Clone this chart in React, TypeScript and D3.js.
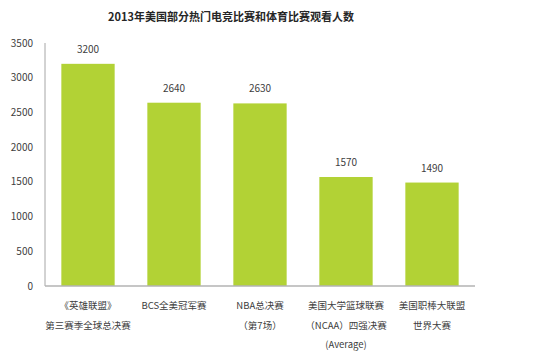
import { useEffect, useRef } from "react";
import * as d3 from "d3";

const title = "2013年美国部分热门电竞比赛和体育比赛观看人数";
const categories = [
  ["《英雄联盟》", "第三赛季全球总决赛"],
  ["BCS全美冠军赛"],
  ["NBA总决赛", "（第7场）"],
  ["美国大学篮球联赛", "（NCAA）四强决赛", "(Average)"],
  ["美国职棒大联盟", "世界大赛"],
];
const viewers = [3200, 2640, 2630, 1570, 1490];
const yTicks = [0, 500, 1000, 1500, 2000, 2500, 3000, 3500];

const W = 554;
const H = 353;
const margin = { top: 43, right: 79, bottom: 67, left: 45 };
const font = "'Noto Sans CJK SC', 'Noto Sans', sans-serif";

export default function App() {
  const ref = useRef<SVGSVGElement>(null);

  useEffect(() => {
    const svg = d3.select(ref.current);
    svg.selectAll("*").remove();

    const width = W - margin.left - margin.right;
    const height = H - margin.top - margin.bottom;

    const x = d3
      .scaleBand<number>()
      .domain(d3.range(viewers.length))
      .range([0, width])
      .paddingInner(0.38)
      .paddingOuter(0.19);

    const y = d3.scaleLinear().domain([0, 3500]).range([height, 0]);

    // title
    svg
      .append("text")
      .attr("x", 231)
      .attr("y", 21)
      .attr("text-anchor", "middle")
      .attr("font-family", font)
      .attr("font-size", 11)
      .attr("font-weight", "bold")
      .attr("fill", "#262626")
      .text(title);

    const g = svg
      .append("g")
      .attr("transform", `translate(${margin.left},${margin.top})`);

    // y tick labels
    g.selectAll(".ytick")
      .data(yTicks)
      .enter()
      .append("text")
      .attr("x", -12)
      .attr("y", (d) => y(d))
      .attr("dy", "0.35em")
      .attr("text-anchor", "end")
      .attr("font-family", font)
      .attr("font-size", 10)
      .attr("fill", "#404040")
      .text((d) => d);

    // bars
    g.selectAll(".bar")
      .data(viewers)
      .enter()
      .append("rect")
      .attr("x", (_, i) => x(i)!)
      .attr("y", (d) => y(d))
      .attr("width", x.bandwidth())
      .attr("height", (d) => height - y(d))
      .attr("fill", "#b2d235");

    // value labels
    g.selectAll(".val")
      .data(viewers)
      .enter()
      .append("text")
      .attr("x", (_, i) => x(i)! + x.bandwidth() / 2)
      .attr("y", (d) => y(d) - 11)
      .attr("text-anchor", "middle")
      .attr("font-family", font)
      .attr("font-size", 10)
      .attr("fill", "#404040")
      .text((d) => d);

    // axes lines
    g.append("line")
      .attr("x1", 0)
      .attr("x2", 0)
      .attr("y1", 0)
      .attr("y2", height)
      .attr("stroke", "#a6a6a6")
      .attr("stroke-width", 1);

    g.append("line")
      .attr("x1", 0)
      .attr("x2", width)
      .attr("y1", height)
      .attr("y2", height)
      .attr("stroke", "#b3b3b3")
      .attr("stroke-width", 1.5);

    // category labels
    categories.forEach((lines, i) => {
      const t = g
        .append("text")
        .attr("text-anchor", "middle")
        .attr("font-family", font)
        .attr("font-size", 9.5)
        .attr("fill", "#404040");
      lines.forEach((line, j) => {
        t.append("tspan")
          .attr("x", x(i)! + x.bandwidth() / 2)
          .attr("y", height + 23 + j * 19.5)
          .text(line);
      });
    });
  }, []);

  return (
    <svg
      ref={ref}
      width={W}
      height={H}
      style={{ position: "absolute", left: 0, top: 0, background: "#fff" }}
    />
  );
}
